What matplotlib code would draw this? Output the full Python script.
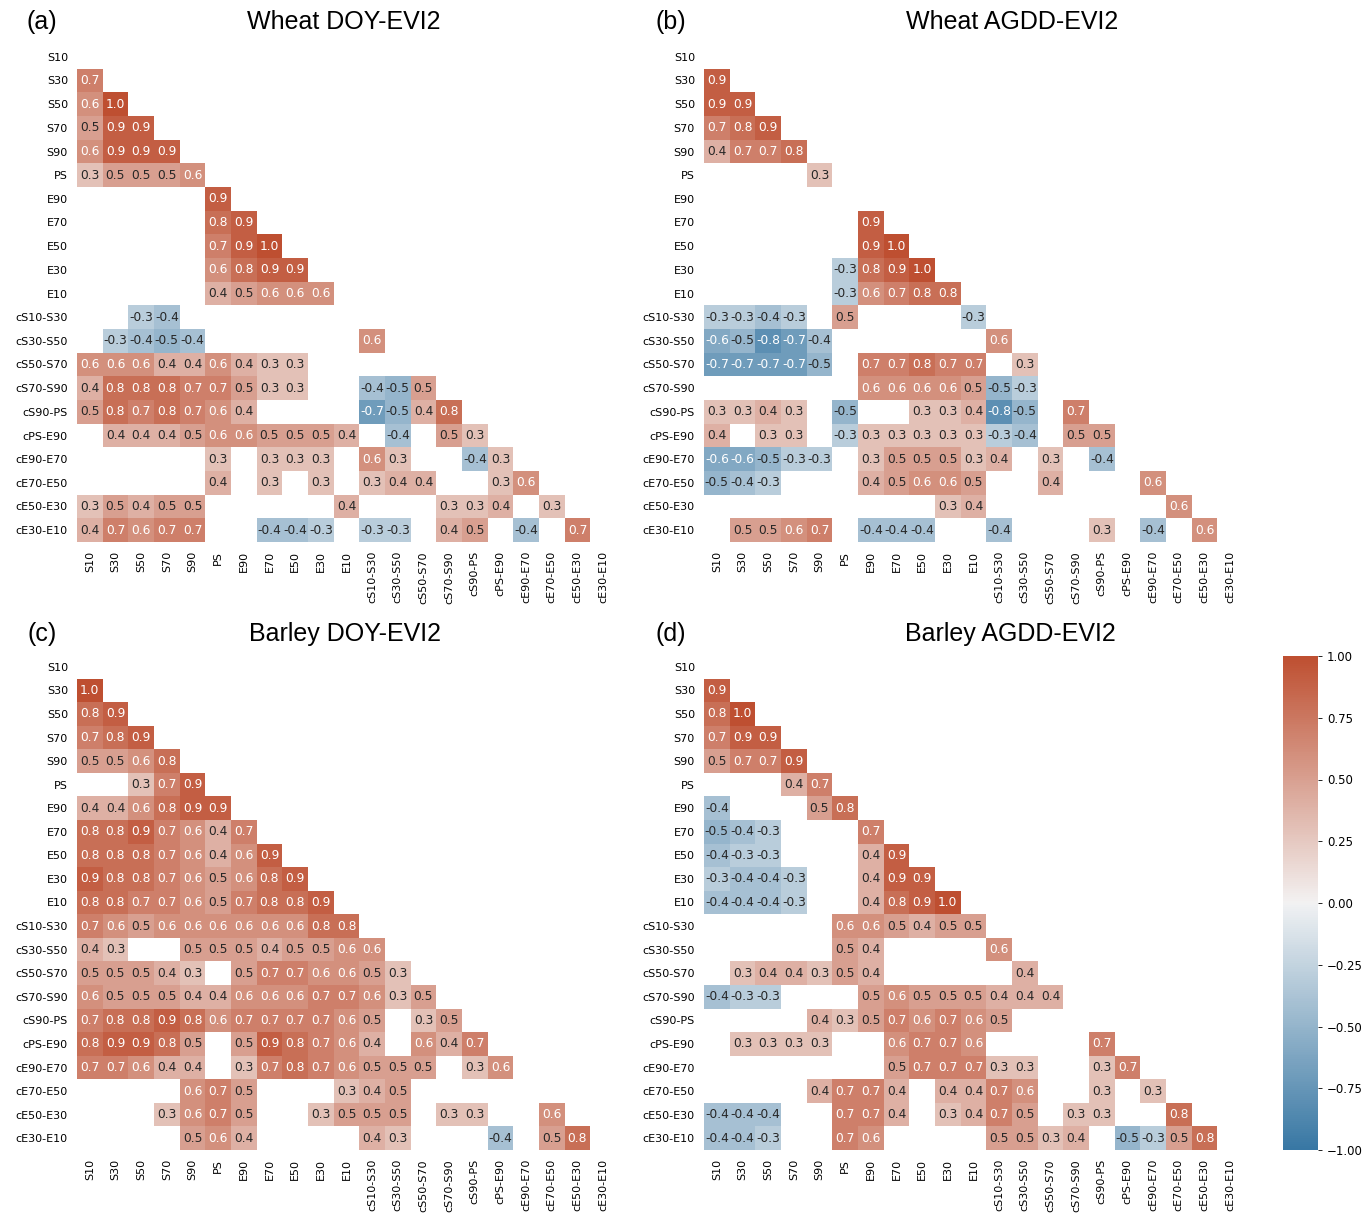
import numpy as np
import matplotlib
matplotlib.use("Agg")
import matplotlib.pyplot as plt
from matplotlib.colors import Normalize
from matplotlib.cm import ScalarMappable
import seaborn as sns

N = None
LABELS = ["S10", "S30", "S50", "S70", "S90", "PS", "E90", "E70", "E50", "E30", "E10",
          "cS10-S30", "cS30-S50", "cS50-S70", "cS70-S90", "cS90-PS", "cPS-E90",
          "cE90-E70", "cE70-E50", "cE50-E30", "cE30-E10"]

TITLES = ["Wheat DOY-EVI2", "Wheat AGDD-EVI2", "Barley DOY-EVI2", "Barley AGDD-EVI2"]
PANEL_TAGS = ["(a)", "(b)", "(c)", "(d)"]

# lower triangle rows (row i holds columns 0..i-1), None = blank cell
WHEAT_DOY = [
    [],
    [0.7],
    [0.6, 1.0],
    [0.5, 0.9, 0.9],
    [0.6, 0.9, 0.9, 0.9],
    [0.3, 0.5, 0.5, 0.5, 0.6],
    [N, N, N, N, N, 0.9],
    [N, N, N, N, N, 0.8, 0.9],
    [N, N, N, N, N, 0.7, 0.9, 1.0],
    [N, N, N, N, N, 0.6, 0.8, 0.9, 0.9],
    [N, N, N, N, N, 0.4, 0.5, 0.6, 0.6, 0.6],
    [N, N, -0.3, -0.4, N, N, N, N, N, N, N],
    [N, -0.3, -0.4, -0.5, -0.4, N, N, N, N, N, N, 0.6],
    [0.6, 0.6, 0.6, 0.4, 0.4, 0.6, 0.4, 0.3, 0.3, N, N, N, N],
    [0.4, 0.8, 0.8, 0.8, 0.7, 0.7, 0.5, 0.3, 0.3, N, N, -0.4, -0.5, 0.5],
    [0.5, 0.8, 0.7, 0.8, 0.7, 0.6, 0.4, N, N, N, N, -0.7, -0.5, 0.4, 0.8],
    [N, 0.4, 0.4, 0.4, 0.5, 0.6, 0.6, 0.5, 0.5, 0.5, 0.4, N, -0.4, N, 0.5, 0.3],
    [N, N, N, N, N, 0.3, N, 0.3, 0.3, 0.3, N, 0.6, 0.3, N, N, -0.4, 0.3],
    [N, N, N, N, N, 0.4, N, 0.3, N, 0.3, N, 0.3, 0.4, 0.4, N, N, 0.3, 0.6],
    [0.3, 0.5, 0.4, 0.5, 0.5, N, N, N, N, N, 0.4, N, N, N, 0.3, 0.3, 0.4, N, 0.3],
    [0.4, 0.7, 0.6, 0.7, 0.7, N, N, -0.4, -0.4, -0.3, N, -0.3, -0.3, N, 0.4, 0.5, N, -0.4, N, 0.7],
]

WHEAT_AGDD = [
    [],
    [0.9],
    [0.9, 0.9],
    [0.7, 0.8, 0.9],
    [0.4, 0.7, 0.7, 0.8],
    [N, N, N, N, 0.3],
    [N, N, N, N, N, N],
    [N, N, N, N, N, N, 0.9],
    [N, N, N, N, N, N, 0.9, 1.0],
    [N, N, N, N, N, -0.3, 0.8, 0.9, 1.0],
    [N, N, N, N, N, -0.3, 0.6, 0.7, 0.8, 0.8],
    [-0.3, -0.3, -0.4, -0.3, N, 0.5, N, N, N, N, -0.3],
    [-0.6, -0.5, -0.8, -0.7, -0.4, N, N, N, N, N, N, 0.6],
    [-0.7, -0.7, -0.7, -0.7, -0.5, N, 0.7, 0.7, 0.8, 0.7, 0.7, N, 0.3],
    [N, N, N, N, N, N, 0.6, 0.6, 0.6, 0.6, 0.5, -0.5, -0.3, N],
    [0.3, 0.3, 0.4, 0.3, N, -0.5, N, N, 0.3, 0.3, 0.4, -0.8, -0.5, N, 0.7],
    [0.4, N, 0.3, 0.3, N, -0.3, 0.3, 0.3, 0.3, 0.3, 0.3, -0.3, -0.4, N, 0.5, 0.5],
    [-0.6, -0.6, -0.5, -0.3, -0.3, N, 0.3, 0.5, 0.5, 0.5, 0.3, 0.4, N, 0.3, N, -0.4, N],
    [-0.5, -0.4, -0.3, N, N, N, 0.4, 0.5, 0.6, 0.6, 0.5, N, N, 0.4, N, N, N, 0.6],
    [N, N, N, N, N, N, N, N, N, 0.3, 0.4, N, N, N, N, N, N, N, 0.6],
    [N, 0.5, 0.5, 0.6, 0.7, N, -0.4, -0.4, -0.4, N, N, -0.4, N, N, N, 0.3, N, -0.4, N, 0.6],
]

BARLEY_DOY = [
    [],
    [1.0],
    [0.8, 0.9],
    [0.7, 0.8, 0.9],
    [0.5, 0.5, 0.6, 0.8],
    [N, N, 0.3, 0.7, 0.9],
    [0.4, 0.4, 0.6, 0.8, 0.9, 0.9],
    [0.8, 0.8, 0.9, 0.7, 0.6, 0.4, 0.7],
    [0.8, 0.8, 0.8, 0.7, 0.6, 0.4, 0.6, 0.9],
    [0.9, 0.8, 0.8, 0.7, 0.6, 0.5, 0.6, 0.8, 0.9],
    [0.8, 0.8, 0.7, 0.7, 0.6, 0.5, 0.7, 0.8, 0.8, 0.9],
    [0.7, 0.6, 0.5, 0.6, 0.6, 0.6, 0.6, 0.6, 0.6, 0.8, 0.8],
    [0.4, 0.3, N, N, 0.5, 0.5, 0.5, 0.4, 0.5, 0.5, 0.6, 0.6],
    [0.5, 0.5, 0.5, 0.4, 0.3, N, 0.5, 0.7, 0.7, 0.6, 0.6, 0.5, 0.3],
    [0.6, 0.5, 0.5, 0.5, 0.4, 0.4, 0.6, 0.6, 0.6, 0.7, 0.7, 0.6, 0.3, 0.5],
    [0.7, 0.8, 0.8, 0.9, 0.8, 0.6, 0.7, 0.7, 0.7, 0.7, 0.6, 0.5, N, 0.3, 0.5],
    [0.8, 0.9, 0.9, 0.8, 0.5, N, 0.5, 0.9, 0.8, 0.7, 0.6, 0.4, N, 0.6, 0.4, 0.7],
    [0.7, 0.7, 0.6, 0.4, 0.4, N, 0.3, 0.7, 0.8, 0.7, 0.6, 0.5, 0.5, 0.5, N, 0.3, 0.6],
    [N, N, N, N, 0.6, 0.7, 0.5, N, N, N, 0.3, 0.4, 0.5, N, N, N, N, N],
    [N, N, N, 0.3, 0.6, 0.7, 0.5, N, N, 0.3, 0.5, 0.5, 0.5, N, 0.3, 0.3, N, N, 0.6],
    [N, N, N, N, 0.5, 0.6, 0.4, N, N, N, N, 0.4, 0.3, N, N, N, -0.4, N, 0.5, 0.8],
]

BARLEY_AGDD = [
    [],
    [0.9],
    [0.8, 1.0],
    [0.7, 0.9, 0.9],
    [0.5, 0.7, 0.7, 0.9],
    [N, N, N, 0.4, 0.7],
    [-0.4, N, N, N, 0.5, 0.8],
    [-0.5, -0.4, -0.3, N, N, N, 0.7],
    [-0.4, -0.3, -0.3, N, N, N, 0.4, 0.9],
    [-0.3, -0.4, -0.4, -0.3, N, N, 0.4, 0.9, 0.9],
    [-0.4, -0.4, -0.4, -0.3, N, N, 0.4, 0.8, 0.9, 1.0],
    [N, N, N, N, N, 0.6, 0.6, 0.5, 0.4, 0.5, 0.5],
    [N, N, N, N, N, 0.5, 0.4, N, N, N, N, 0.6],
    [N, 0.3, 0.4, 0.4, 0.3, 0.5, 0.4, N, N, N, N, N, 0.4],
    [-0.4, -0.3, -0.3, N, N, N, 0.5, 0.6, 0.5, 0.5, 0.5, 0.4, 0.4, 0.4],
    [N, N, N, N, 0.4, 0.3, 0.5, 0.7, 0.6, 0.7, 0.6, 0.5, N, N, N],
    [N, 0.3, 0.3, 0.3, 0.3, N, N, 0.6, 0.7, 0.7, 0.6, N, N, N, N, 0.7],
    [N, N, N, N, N, N, N, 0.5, 0.7, 0.7, 0.7, 0.3, 0.3, N, N, 0.3, 0.7],
    [N, N, N, N, 0.4, 0.7, 0.7, 0.4, N, 0.4, 0.4, 0.7, 0.6, N, N, 0.3, N, 0.3],
    [-0.4, -0.4, -0.4, N, N, 0.7, 0.7, 0.4, N, 0.3, 0.4, 0.7, 0.5, N, 0.3, 0.3, N, N, 0.8],
    [-0.4, -0.4, -0.3, N, N, 0.7, 0.6, N, N, N, N, 0.5, 0.5, 0.3, 0.4, N, -0.5, -0.3, 0.5, 0.8],
]

PANELS = [WHEAT_DOY, WHEAT_AGDD, BARLEY_DOY, BARLEY_AGDD]
CBAR_TICKS = [1.0, 0.75, 0.5, 0.25, 0.0, -0.25, -0.5, -0.75, -1.0]


def to_matrix(rows):
    n = len(LABELS)
    m = np.full((n, n), np.nan)
    for i, r in enumerate(rows):
        for j, v in enumerate(r):
            if v is not None:
                m[i, j] = v
    return m


def rel_lum(rgb):
    c = np.array(rgb[:3])
    c = np.where(c <= 0.03928, c / 12.92, ((c + 0.055) / 1.055) ** 2.4)
    return 0.2126 * c[0] + 0.7152 * c[1] + 0.0722 * c[2]


cmap = sns.diverging_palette(240, 20, s=80, l=48, as_cmap=True)
norm = Normalize(vmin=-1, vmax=1)

W, H = 1370, 1213
fig = plt.figure(figsize=(W / 100, H / 100), dpi=100)


def ax_px(x0, y0, x1, y1):
    return fig.add_axes([x0 / W, 1 - y1 / H, (x1 - x0) / W, (y1 - y0) / H])


boxes = [(77, 45, 616, 542), (704, 45, 1243, 542),
         (77, 655, 616, 1150), (704, 655, 1243, 1150)]
title_pos = [(344, 22), (1012, 22), (345, 634), (1010, 634)]
tag_pos = [(42, 22), (671, 22), (42, 634), (671, 634)]

n = len(LABELS)
for k in range(4):
    ax = ax_px(*boxes[k])
    m = to_matrix(PANELS[k])
    mm = np.ma.masked_invalid(m)
    ax.pcolormesh(np.arange(n + 1), np.arange(n + 1), mm, cmap=cmap, norm=norm)
    ax.set_xlim(0, n)
    ax.set_ylim(n, 0)
    for i in range(n):
        for j in range(n):
            v = m[i, j]
            if np.isnan(v):
                continue
            lum = rel_lum(cmap(norm(v)))
            col = "#262626" if lum > 0.408 else "white"
            ax.text(j + 0.5, i + 0.5, f"{v:.1f}", ha="center", va="center",
                    fontsize=8.8, color=col)
    ax.set_xticks(np.arange(n) + 0.5)
    ax.set_xticklabels(LABELS, rotation=90, fontsize=8)
    ax.set_yticks(np.arange(n) + 0.5)
    ax.set_yticklabels(LABELS, rotation=0, fontsize=8)
    ax.tick_params(length=0, pad=6.5)
    for s in ax.spines.values():
        s.set_visible(False)
    fig.text(title_pos[k][0] / W, 1 - title_pos[k][1] / H, TITLES[k],
             ha="center", va="center", fontsize=18, family="Liberation Sans")
    fig.text(tag_pos[k][0] / W, 1 - tag_pos[k][1] / H, PANEL_TAGS[k],
             ha="center", va="center", fontsize=18, family="Liberation Sans")

cax = ax_px(1283, 656, 1318, 1150)
cb = fig.colorbar(ScalarMappable(norm=norm, cmap=cmap), cax=cax, ticks=CBAR_TICKS)
cb.ax.set_yticklabels([f"{t:.2f}".replace("-", "\u2212") for t in CBAR_TICKS], fontsize=8.5)
cb.outline.set_visible(False)
cb.ax.tick_params(length=3, width=0.6)

fig.savefig("out.png", dpi=100, facecolor="white")
